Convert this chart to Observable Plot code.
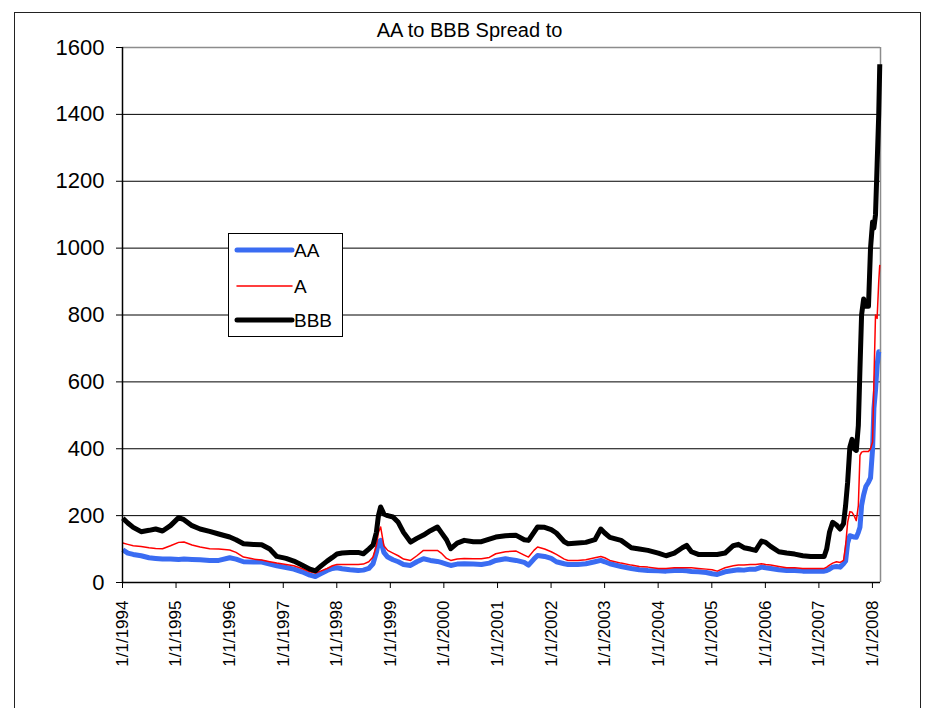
<!DOCTYPE html>
<html>
<head>
<meta charset="utf-8">
<script src="https://cdn.jsdelivr.net/npm/d3@7"></script>
<script src="https://cdn.jsdelivr.net/npm/@observablehq/plot@0.6"></script>
<style>
  body { margin: 0; background: #fff; overflow: hidden; }
  #wrap { position: relative; width: 939px; height: 708px; font-family: Arial, "Liberation Sans", sans-serif; }
  #frame { position: absolute; left: 14px; top: 12px; width: 907px; height: 760px; border: 1.5px solid #222; box-sizing: border-box; }
  #chart { position: absolute; left: 0; top: 0; }
  #title { position: absolute; left: 0; top: 19px; width: 939px; text-align: center; font-size: 20px; color: #000; }
  #legend { position: absolute; left: 228px; top: 233px; width: 115px; height: 104px; border: 1px solid #000; background: #fff; box-sizing: border-box; }
</style>
</head>
<body>
<div id="wrap">
  <div id="frame"></div>
  <div id="chart"></div>
  <div id="title">AA to BBB Spread to</div>
  <div id="legend"></div>
</div>
<script>
// Observation dates for the three spread series (basis points)
const dates = [
  "1994-01-03","1994-02-06","1994-03-15","1994-05-08","1994-07-01","1994-08-15","1994-10-01","1994-11-24",
  "1995-01-19","1995-02-24","1995-04-20","1995-06-14","1995-08-18","1995-10-19",
  "1996-01-02","1996-02-14","1996-04-05","1996-06-13","1996-08-07","1996-10-01","1996-11-18",
  "1997-01-20","1997-03-14","1997-05-08","1997-07-02","1997-08-08","1997-09-12","1997-10-27","1997-12-02",
  "1998-01-02","1998-02-06","1998-04-01","1998-05-27","1998-07-01","1998-08-07","1998-09-05","1998-09-28",
  "1998-10-12","1998-10-27","1998-11-18","1998-12-14",
  "1999-01-19","1999-02-24","1999-04-01","1999-05-19","1999-07-01","1999-08-15","1999-10-01","1999-11-18","1999-12-14",
  "2000-01-19","2000-02-17","2000-04-01","2000-05-19","2000-07-20","2000-09-13","2000-11-06","2000-12-20",
  "2001-02-24","2001-05-08","2001-07-02","2001-07-31","2001-09-06","2001-10-01","2001-11-18",
  "2002-01-02","2002-02-06","2002-04-01","2002-04-27","2002-07-02","2002-08-26","2002-10-27","2002-12-06",
  "2003-01-02","2003-02-06","2003-04-23","2003-07-02","2003-08-26","2003-10-23",
  "2004-01-02","2004-02-24","2004-04-20","2004-06-14","2004-07-13","2004-08-15","2004-10-01","2004-11-24",
  "2005-01-03","2005-02-07","2005-04-01","2005-05-27","2005-07-01","2005-08-08","2005-09-21","2005-10-27","2005-12-06",
  "2006-01-03","2006-02-06","2006-04-03","2006-05-26","2006-07-20","2006-09-13","2006-11-06",
  "2007-01-02","2007-02-06","2007-02-23","2007-03-14","2007-04-05","2007-05-01","2007-05-26","2007-06-18",
  "2007-07-02","2007-07-16","2007-07-31","2007-08-15","2007-08-29","2007-09-13","2007-09-27","2007-10-08",
  "2007-10-19","2007-11-02","2007-11-17","2007-12-05","2007-12-19",
  "2008-01-02","2008-01-11","2008-01-22","2008-02-02","2008-02-13","2008-02-20"
];

const aa = [
  98, 88, 84, 80, 74, 72, 70, 70,
  69, 70, 69, 68, 66, 66,
  74, 70, 62, 61, 61, 55, 50,
  45, 40, 32, 22, 18, 26, 36, 42,
  44, 41, 38, 36, 37, 42, 56, 90,
  120, 126, 90, 76,
  68, 62, 54, 51, 62, 71, 66, 63, 60,
  55, 51, 55, 56, 55, 54, 58, 66,
  71, 66, 60, 52, 70, 81, 78,
  72, 62, 56, 54, 54, 56, 62, 66,
  62, 56, 48, 42, 38, 36,
  35, 34, 36, 36, 35, 33, 32, 30,
  26, 24, 32, 36, 38, 37, 40, 40, 46,
  44, 42, 38, 36, 36, 34, 34,
  34, 34, 36, 40, 46, 48, 46, 56,
  64, 118, 140, 138, 136, 135, 150, 165,
  230, 262, 287, 300, 313,
  400, 520, 575, 650, 690, 690
];

const a = [
  118, 114, 110, 108, 104, 102, 101, 110,
  120, 121, 112, 106, 101, 100,
  97, 90, 76, 70, 67, 62, 58,
  54, 50, 42, 32, 28, 34, 42, 50,
  54, 54, 54, 54, 55, 62, 76, 110,
  150, 166, 110, 96,
  88, 80, 70, 66, 80, 96, 96, 96, 88,
  72, 66, 70, 72, 71, 71, 75, 86,
  92, 94, 82, 76, 96, 106, 100,
  92, 84, 70, 66, 66, 68, 74, 78,
  74, 66, 58, 52, 48, 46,
  42, 42, 44, 44, 44, 44, 42, 40,
  38, 34, 44, 50, 52, 52, 54, 54, 56,
  54, 52, 48, 44, 44, 42, 42,
  42, 42, 46, 52, 58, 62, 60, 66,
  110, 180, 212, 210, 200, 185, 230, 380,
  390, 392, 392, 392, 400,
  420, 600, 800, 790, 900, 950
];

const bbb = [
  192, 178, 165, 152, 156, 160, 154, 170,
  194, 188, 170, 160, 153, 145,
  136, 128, 116, 114, 113, 100, 78,
  72, 64, 52, 40, 35, 48, 64, 75,
  85, 88, 90, 90, 86, 100, 112, 150,
  200, 226, 205, 200,
  196, 180, 150, 121, 132, 142, 155, 166, 150,
  128, 101, 118, 126, 122, 122, 130, 136,
  140, 141, 128, 126, 150, 166, 165,
  158, 148, 122, 116, 118, 120, 128, 160,
  148, 135, 126, 104, 100, 96,
  88, 80, 88, 104, 111, 92, 84, 84,
  84, 84, 88, 110, 114, 104, 100, 96, 124,
  120, 108, 92, 88, 85, 80, 78,
  78, 78, 100, 150, 180, 172, 160, 176,
  230, 300, 405, 428, 400, 395, 470, 640,
  800, 848, 826, 826, 1000,
  1078, 1060, 1100, 1250, 1400, 1550
];

const seriesNames = ["AA", "A", "BBB"];
const seriesColors = ["#3a6cf2", "#ff0000", "#000000"];
const seriesWidths = [5, 1.5, 5];
const yTicks = [0, 200, 400, 600, 800, 1000, 1200, 1400, 1600];
const xTickYears = [1994, 1995, 1996, 1997, 1998, 1999, 2000, 2001, 2002, 2003, 2004, 2005, 2006, 2007, 2008];

const parse = d3.utcParse("%Y-%m-%d");
const toRows = (vals) => dates.map((d, i) => ({date: parse(d), value: vals[i]}));
const seriesValues = [aa, a, bbb];

const xStart = new Date(Date.UTC(1994, 0, 1));
const xEnd = new Date(Date.UTC(2008, 1, 25));
const xTicks = xTickYears.map(y => new Date(Date.UTC(y, 0, 1)));
const font = 'Arial, "Liberation Sans", sans-serif';

const chart = Plot.plot({
  width: 939,
  height: 708,
  marginLeft: 122,
  marginRight: 59,
  marginTop: 47,
  marginBottom: 126,
  x: {type: "utc", domain: [xStart, xEnd]},
  y: {domain: [0, 1600]},
  style: {fontFamily: font, background: "transparent", color: "#000", overflow: "visible"},
  marks: [
    // horizontal gridlines
    Plot.ruleY(yTicks.filter(v => v > 0 && v < 1600), {stroke: "#000", strokeWidth: 1}),
    // plot-area border on top and right
    Plot.ruleY([1600], {stroke: "#8c8c8c", strokeWidth: 1.5}),
    Plot.ruleX([xEnd], {stroke: "#8c8c8c", strokeWidth: 1.5}),
    // the three spread series
    ...seriesValues.map((vals, i) => Plot.line(toRows(vals), {
      x: "date", y: "value",
      stroke: seriesColors[i], strokeWidth: seriesWidths[i],
      strokeLinejoin: "round", strokeLinecap: "butt"
    })),
    // axis lines
    Plot.ruleX([xStart], {stroke: "#000", strokeWidth: 1.5}),
    Plot.ruleY([0], {stroke: "#000", strokeWidth: 1.5}),
    Plot.axisY({ticks: yTicks, tickSize: 6, tickPadding: 12, fontSize: 22, tickFormat: d => String(d), label: null}),
    Plot.axisX({ticks: xTicks, tickSize: 6, tickPadding: 12, tickRotate: -90, fontSize: 17,
      tickFormat: d => `1/1/${d.getUTCFullYear()}`, label: null})
  ]
});
document.getElementById("chart").append(chart);

// legend box
const ns = "http://www.w3.org/2000/svg";
const leg = document.createElementNS(ns, "svg");
leg.setAttribute("width", 113);
leg.setAttribute("height", 102);
leg.style.display = "block";
const rowY = [16, 52, 86];
seriesNames.forEach((name, i) => {
  const ln = document.createElementNS(ns, "line");
  ln.setAttribute("x1", 8); ln.setAttribute("x2", 63);
  ln.setAttribute("y1", rowY[i]); ln.setAttribute("y2", rowY[i]);
  ln.setAttribute("stroke", seriesColors[i]);
  ln.setAttribute("stroke-width", seriesWidths[i]);
  ln.setAttribute("stroke-linecap", "round");
  leg.append(ln);
  const tx = document.createElementNS(ns, "text");
  tx.setAttribute("x", 65); tx.setAttribute("y", rowY[i]);
  tx.setAttribute("dy", "0.36em");
  tx.setAttribute("font-size", 19);
  tx.setAttribute("font-family", font);
  tx.textContent = name;
  leg.append(tx);
});
document.getElementById("legend").append(leg);
</script>
</body>
</html>
